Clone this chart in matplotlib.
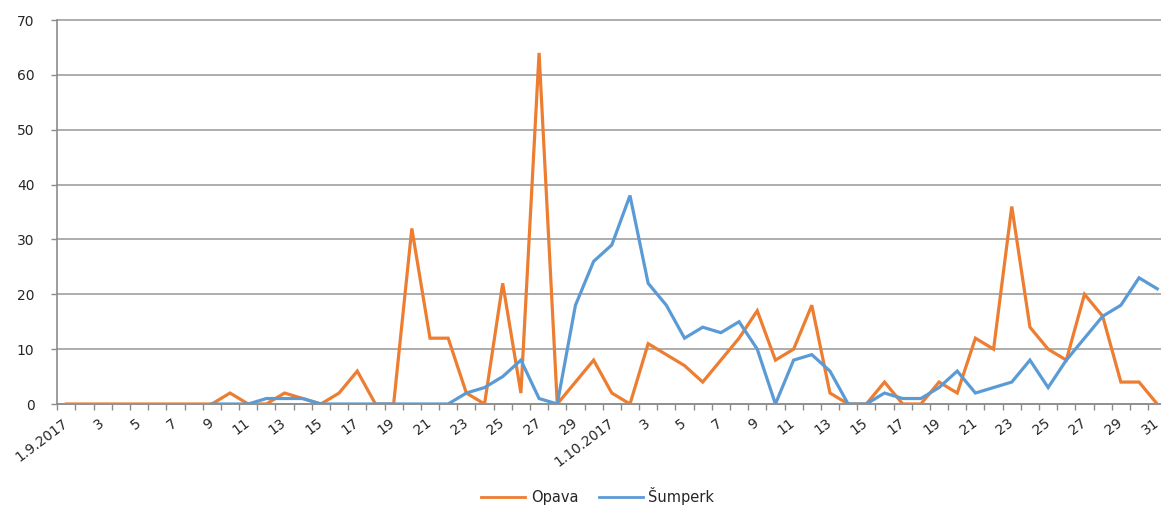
import numpy as np
import matplotlib
matplotlib.use("Agg")
import matplotlib.pyplot as plt
from matplotlib.ticker import FixedLocator

# Daily counts, September and October 2017
opava_sep = [0, 0, 0, 0, 0, 0, 0, 0, 0, 2, 0, 0, 2, 1, 0, 2, 6, 0, 0, 32,
             12, 12, 2, 0, 22, 2, 64, 0, 4, 8]
opava_oct = [2, 0, 11, 9, 7, 4, 8, 12, 17, 8, 10, 18, 2, 0, 0, 4, 0, 0, 4, 2,
             12, 10, 36, 14, 10, 8, 20, 16, 4, 4, 0]
sumperk_sep = [None] * 8 + [0, 0, 0, 1, 1, 1, 0, 0, 0, 0, 0, 0, 0, 0, 2, 3,
                            5, 8, 1, 0, 18, 26]
sumperk_oct = [29, 38, 22, 18, 12, 14, 13, 15, 10, 0, 8, 9, 6, 0, 0, 2, 1, 1,
               3, 6, 2, 3, 4, 8, 3, 8, 12, 16, 18, 23, 21]

series_names = ["Opava", "Šumperk"]
series_colors = ["#ED7D31", "#5B9BD5"]

# Category labels: day of month, with the full date on the first of each month
day_labels = ([("1.9.2017" if d == 1 else str(d)) for d in range(1, 31)] +
              [("1.10.2017" if d == 1 else str(d)) for d in range(1, 32)])

opava = np.array(opava_sep + opava_oct, dtype=float)
sumperk = np.array([np.nan if v is None else v for v in sumperk_sep + sumperk_oct],
                   dtype=float)
x = np.arange(len(day_labels))

W, H = 1161, 505
fig = plt.figure(figsize=(W / 100, H / 100), dpi=100)
left_px, right_px, top_px, bottom_px = 57.3, 1166.3, 20, 404
ax = fig.add_axes([left_px / W, (H - bottom_px) / H,
                   (right_px - left_px) / W, (bottom_px - top_px) / H])

grid_c = "#A0A0A0"
axis_c = "#8C8C8C"
text_c = "#262626"

ax.plot(x, opava, color=series_colors[0], lw=2.3, label=series_names[0],
        solid_joinstyle="miter", zorder=3)
ax.plot(x, sumperk, color=series_colors[1], lw=2.3, label=series_names[1],
        solid_joinstyle="miter", zorder=4)

ax.set_xlim(-0.5, len(x) - 0.5)
ax.set_ylim(0, 70)
ax.set_yticks(np.arange(0, 71, 10))
ax.yaxis.grid(True, color=grid_c, lw=1.2)
ax.set_axisbelow(True)
for gl in ax.get_ygridlines():
    gl.set_clip_on(False)

for s in ["top", "right"]:
    ax.spines[s].set_visible(False)
for s in ["left", "bottom"]:
    ax.spines[s].set_color(axis_c)
    ax.spines[s].set_linewidth(1.2)

# tick marks sit between categories, labels on every other category
ax.xaxis.set_minor_locator(FixedLocator(np.arange(-0.5, len(x), 1.0)))
ax.set_xticks(x[::2])
ax.set_xticklabels(day_labels[::2])
ax.tick_params(axis="x", which="major", length=0, pad=12.5, labelsize=10,
               labelcolor=text_c)
ax.tick_params(axis="x", which="minor", length=4.5, width=1.0, color=axis_c)
for lab in ax.get_xticklabels():
    lab.set_rotation(37)
    lab.set_ha("right")
    lab.set_va("center")
    lab.set_rotation_mode("anchor")

ax.tick_params(axis="y", length=4.5, width=1.0, color=axis_c, pad=12,
               labelsize=10, labelcolor=text_c)

leg = fig.legend(loc="lower center", bbox_to_anchor=(0.515, -0.026), ncol=2,
                 frameon=False, fontsize=10.5, handlelength=3.0,
                 handletextpad=0.4, columnspacing=1.4)
for line in leg.get_lines():
    line.set_linewidth(2.0)
for t in leg.get_texts():
    t.set_color(text_c)

fig.savefig("out.png", dpi=100)
